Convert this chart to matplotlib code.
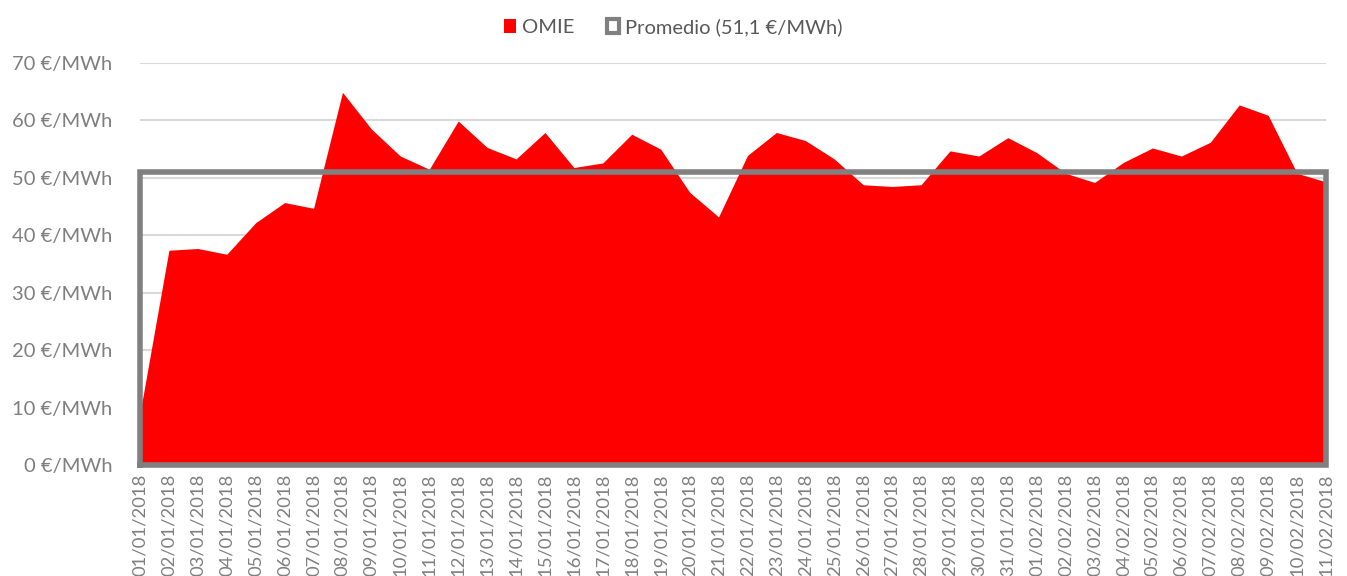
import matplotlib
matplotlib.use("Agg")
import matplotlib.pyplot as plt
from matplotlib.patches import Patch

plt.rcParams['font.family'] = ['Lato', 'DejaVu Sans']

dates = ["01/01/2018", "02/01/2018", "03/01/2018", "04/01/2018", "05/01/2018", "06/01/2018",
         "07/01/2018", "08/01/2018", "09/01/2018", "10/01/2018", "11/01/2018", "12/01/2018",
         "13/01/2018", "14/01/2018", "15/01/2018", "16/01/2018", "17/01/2018", "18/01/2018",
         "19/01/2018", "20/01/2018", "21/01/2018", "22/01/2018", "23/01/2018", "24/01/2018",
         "25/01/2018", "26/01/2018", "27/01/2018", "28/01/2018", "29/01/2018", "30/01/2018",
         "31/01/2018", "01/02/2018", "02/02/2018", "03/02/2018", "04/02/2018", "05/02/2018",
         "06/02/2018", "07/02/2018", "08/02/2018", "09/02/2018", "10/02/2018", "11/02/2018"]

omie = [9.0, 37.4, 37.7, 36.7, 42.2, 45.7, 44.7, 64.9, 58.5, 53.8, 51.5, 59.9,
        55.3, 53.3, 57.9, 51.8, 52.6, 57.6, 55.0, 47.5, 43.2, 53.9, 57.9, 56.5,
        53.3, 48.8, 48.5, 48.8, 54.7, 53.8, 57.0, 54.4, 50.8, 49.2, 52.7, 55.2,
        53.8, 56.2, 62.7, 60.9, 50.8, 49.3]

promedio = 51.1
yticks = [0, 10, 20, 30, 40, 50, 60, 70]
ytick_labels = [f"{v} €/MWh" for v in yticks]

grey_text = "#7f7f7f"

fig = plt.figure(figsize=(13.47, 5.76), dpi=100)
ax = fig.add_axes([140/1347, 1-465/576, (1326-140)/1347, (465-63)/576])

x = list(range(len(dates)))
ax.fill_between(x, 0, omie, color="#ff0000", linewidth=0, zorder=2)

# Promedio area: outline only
n = len(dates) - 1
ax.plot([0, 0, n, n, 0], [0, promedio, promedio, 0, 0], color="#808080",
        linewidth=4, solid_joinstyle='miter', zorder=3, clip_on=False)

ax.set_xlim(0, n)
ax.set_ylim(0, 70)
ax.set_yticks(yticks)
ax.set_yticklabels(ytick_labels, color=grey_text, fontsize=14.5)
ax.set_xticks(x)
ax.set_xticklabels(dates, rotation=90, color=grey_text, fontsize=13.3)
ax.tick_params(axis='both', length=0, pad=6)
ax.tick_params(axis='y', pad=20)
ax.grid(axis='y', color="#d9d9d9", linewidth=1.5, zorder=0)
ax.set_axisbelow(True)
for s in ax.spines.values():
    s.set_visible(False)

handles = [Patch(facecolor="#ff0000", edgecolor="none"),
           Patch(facecolor="white", edgecolor="#808080", linewidth=3)]
fig.legend(handles, ["OMIE", "Promedio (51,1 €/MWh)"], loc='upper center',
           bbox_to_anchor=(0.5, 1.0), ncol=2, frameon=False, fontsize=14.5,
           labelcolor="#595959", handlelength=0.6, handleheight=0.7,
           handletextpad=0.3, columnspacing=1.6)

fig.savefig("out.png", dpi=100)
